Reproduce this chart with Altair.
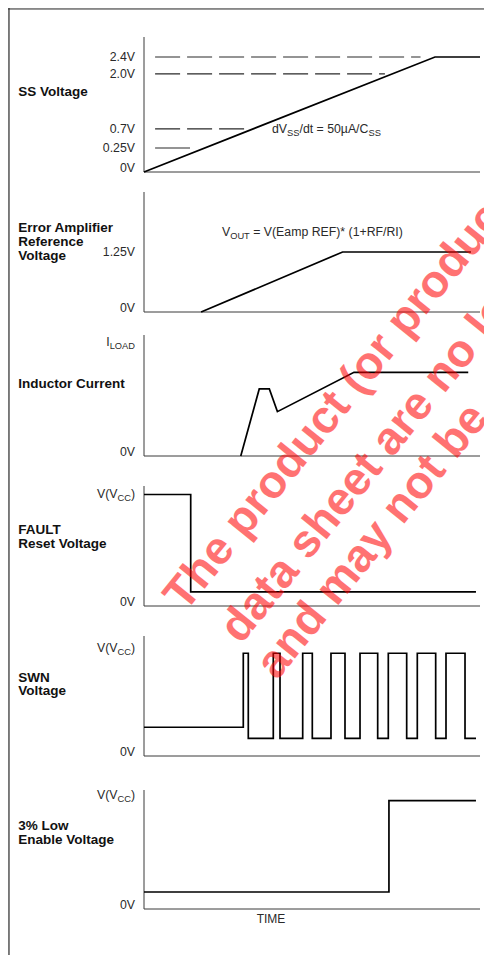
import altair as alt
import pandas as pd

FONT = "Liberation Sans, Arial, Helvetica, sans-serif"

# ---------------- data ----------------
# time axis in arbitrary units (TIME)
t_domain = [0, 100]

# SS Voltage (V)
ss_time = [0, 86.6, 100]
ss_volt = [0, 2.4, 2.4]
ss_ref_level = [2.4, 2.0, 0.7, 0.25]
ss_ref_start = [3.3, 3.3, 3.3, 3.3]
ss_ref_end = [82.3, 71.7, 30.1, 13.7]
ss_ref_dashed = [True, True, True, False]
ss_tick_value = [2.4, 2.0, 0.7, 0.25]
ss_tick_text = ["2.4V", "2.0V", "0.7V", "0.25V"]
ss_note_time, ss_note_volt = 38.1, 0.7

# Error Amplifier Reference Voltage (V)
ea_time = [17.0, 59.1, 97.3]
ea_volt = [0, 1.25, 1.25]
ea_tick_value = [1.25]
ea_tick_text = ["1.25V"]
ea_note_time, ea_note_volt = 23.2, 1.25

# Inductor current (fraction of I_LOAD)
il_time = [28.8, 34.3, 37.3, 39.7, 62.5, 96.5]
il_curr = [0, 0.588, 0.588, 0.389, 0.734, 0.734]

# FAULT reset voltage (fraction of VCC), step-after
fault_time = [0, 13.9, 98.8]
fault_level = [1, 0.126, 0.126]

# SWN voltage (fraction of VCC), step-after
swn_time = [0, 29.55, 31.04, 38.48, 40.48, 47.23, 50.09, 55.65, 59.82,
            64.29, 69.55, 72.71, 78.18, 81.34, 86.81, 89.88, 95.54, 98.81]
swn_level = [0.265, 0.947, 0.163, 0.947, 0.163, 0.947, 0.163, 0.947, 0.163,
             0.947, 0.163, 0.947, 0.163, 0.947, 0.163, 0.947, 0.163, 0.163]

# 3% Low enable voltage (fraction of VCC), step-after
low_time = [0, 72.9, 98.8]
low_level = [0.149, 0.95, 0.95]

time_label_t = 37.8

panel_titles = {
    "ss": "SS Voltage",
    "ea": "Error Amplifier\nReference\nVoltage",
    "il": "Inductor Current",
    "fault": "FAULT\nReset Voltage",
    "swn": "SWN\nVoltage",
    "low": "3% Low\nEnable Voltage",
}

watermark_lines = ["The product (or product", "data sheet are no lo", "and may not be"]

# ---------------- layout (scale configuration) ----------------
W, H = 476, 947
XS = alt.Scale(domain=t_domain, range=[136, 472], nice=False, zero=False)
PANEL = {
    "ss": dict(domain=[0, 0.25, 2.4, 2.872], range=[164, 140, 49, 29], title_y=87.5),
    "ea": dict(domain=[0, 2.5], range=[304, 184], title_y=224.3),
    "il": dict(domain=[0, 1.061], range=[448, 327], title_y=380.3),
    "fault": dict(domain=[0, 1.076], range=[598, 478], title_y=526),
    "swn": dict(domain=[0, 1.106], range=[748, 628], title_y=673.7),
    "low": dict(domain=[0, 1.044], range=[901, 782], title_y=822),
}

FS, SFS, SDY = 12.3, 9.3, 4
LABEL_DX = -9
TITLE_DX = -125.7
SIG_W = 1.7
AX_W = 1.0
AX_C = "#3a3a3a"
TXT_C = "#2a2a2a"

AR = {'V': 667, '(': 333, ')': 333, 'C': 722, 'I': 278, 'L': 556, 'O': 778, 'A': 667,
      'D': 722, 'S': 667, 'U': 722, 'T': 611, 'd': 556, '/': 278, 't': 278, ' ': 278,
      '=': 584, '5': 556, '0': 556, 'µ': 576, 'E': 667, 'a': 556, 'm': 833, 'p': 556,
      'R': 722, 'F': 611, '*': 389, '1': 556, '+': 584}


def tw(s, fs):
    return sum(AR.get(c, 556) for c in s) * fs / 1000.0


def X(field="t"):
    return alt.X(f"{field}:Q", scale=XS, axis=None)


def Y(p, field="v"):
    c = PANEL[p]
    return alt.Y(f"{field}:Q", scale=alt.Scale(domain=c["domain"], range=c["range"],
                                               nice=False, zero=False), axis=None)


def axes(p):
    top = PANEL[p]["domain"][-1]
    df = pd.DataFrame({"t": [t_domain[0]], "t2": [t_domain[1]], "v": [0], "v2": [top]})
    vert = alt.Chart(df).mark_rule(color=AX_C, strokeWidth=AX_W).encode(
        x=X(), y=Y(p), y2=alt.Y2("v2:Q"))
    horiz = alt.Chart(df).mark_rule(color=AX_C, strokeWidth=AX_W).encode(
        x=X(), x2=alt.X2("t2:Q"), y=Y(p))
    zero = alt.Chart(df).mark_text(text="0V", align="right", baseline="middle", dx=LABEL_DX,
                                   dy=-4, fontSize=FS, font=FONT, color=TXT_C).encode(x=X(), y=Y(p))
    title = alt.Chart(df).mark_text(text=panel_titles[p], align="left", baseline="alphabetic",
                                    lineBreak="\n", lineHeight=13.7, fontSize=13.5,
                                    fontWeight="bold", font=FONT, color="#111").encode(
        x=alt.value(136 + TITLE_DX), y=alt.value(PANEL[p]["title_y"]))
    return [vert, horiz, zero, title]


def rich(p, t, v, segs, align="left", dx=0, dy=0):
    total = sum(tw(s, SFS if sub else FS) for s, sub in segs)
    cur = dx - total if align == "right" else dx
    df = pd.DataFrame({"t": [t], "v": [v]})
    out = []
    for s, sub in segs:
        f = SFS if sub else FS
        lead = len(s) - len(s.lstrip(" "))
        cur += tw(" " * lead, f)
        body = s.lstrip(" ")
        out.append(alt.Chart(df).mark_text(text=body, align="left", baseline="middle", dx=cur,
                                           dy=dy + (SDY if sub else 0), fontSize=f, font=FONT,
                                           color=TXT_C).encode(x=X(), y=Y(p)))
        cur += tw(body, f)
    return out


def ticks(p, values, texts):
    df = pd.DataFrame({"t": [t_domain[0]] * len(values), "v": values, "txt": texts})
    return alt.Chart(df).mark_text(align="right", baseline="middle", dx=LABEL_DX, fontSize=FS,
                                   font=FONT, color=TXT_C).encode(x=X(), y=Y(p), text="txt:N")


def signal(p, times, vals, interp="linear"):
    df = pd.DataFrame({"t": times, "v": vals})
    return alt.Chart(df).mark_line(color="black", strokeWidth=SIG_W, interpolate=interp,
                                   strokeJoin="miter").encode(x=X(), y=Y(p))


vcc_segs = [("V(V", False), ("CC", True), (")", False)]

# ---- SS panel
ref_df = pd.DataFrame({"t": ss_ref_start, "t2": ss_ref_end, "v": ss_ref_level, "dash": ss_ref_dashed})
ss_dash = alt.Chart(ref_df[ref_df.dash]).mark_rule(color="#2a2a2a", strokeWidth=1.2,
                                                    strokeDash=[25, 7]).encode(
    x=X(), x2=alt.X2("t2:Q"), y=Y("ss"))
ss_solid = alt.Chart(ref_df[~ref_df.dash]).mark_rule(color="#2a2a2a", strokeWidth=1.2).encode(
    x=X(), x2=alt.X2("t2:Q"), y=Y("ss"))
p_ss = alt.layer(*axes("ss"), ss_dash, ss_solid, signal("ss", ss_time, ss_volt),
                 ticks("ss", ss_tick_value, ss_tick_text),
                 *rich("ss", ss_note_time, ss_note_volt,
                       [("dV", False), ("SS", True), ("/dt = 50µA/C", False), ("SS", True)]))

# ---- EA panel
p_ea = alt.layer(*axes("ea"), signal("ea", ea_time, ea_volt),
                 ticks("ea", ea_tick_value, ea_tick_text),
                 *rich("ea", ea_note_time, ea_note_volt,
                       [("V", False), ("OUT", True), (" = V(Eamp REF)* (1+RF/RI)", False)], dy=-20))

# ---- Inductor current
p_il = alt.layer(*axes("il"), signal("il", il_time, il_curr),
                 *rich("il", 0, 1, [("I", False), ("LOAD", True)], align="right", dx=LABEL_DX))

# ---- FAULT
p_fault = alt.layer(*axes("fault"), signal("fault", fault_time, fault_level, "step-after"),
                    *rich("fault", 0, 1, vcc_segs, align="right", dx=LABEL_DX))

# ---- SWN
p_swn = alt.layer(*axes("swn"), signal("swn", swn_time, swn_level, "step-after"),
                  *rich("swn", 0, 1, vcc_segs, align="right", dx=LABEL_DX))

# ---- 3% Low
time_df = pd.DataFrame({"t": [time_label_t], "v": [0]})
time_lbl = alt.Chart(time_df).mark_text(text="TIME", align="center", baseline="middle", dy=9.5,
                                        fontSize=12, font=FONT, color=TXT_C).encode(x=X(), y=Y("low"))
p_low = alt.layer(*axes("low"), signal("low", low_time, low_level, "step-after"),
                  *rich("low", 0, 1, vcc_segs, align="right", dx=LABEL_DX), time_lbl)

# ---- frame + watermark overlay
one = pd.DataFrame({"k": [0]})
frame_l = alt.Chart(one).mark_rule(color="#333", strokeWidth=1.2).encode(
    x=alt.value(1), y=alt.value(0), y2=alt.value(H))
frame_t = alt.Chart(one).mark_rule(color="#333", strokeWidth=1.2).encode(
    x=alt.value(0), x2=alt.value(W), y=alt.value(1))
wm_pos = [(177, 605), (233, 637), (269, 673)]
wm = [alt.Chart(one).mark_text(text=s, align="left", baseline="alphabetic", angle=309,
                               fontSize=46, fontWeight="bold", font=FONT, color="#ff0000",
                               opacity=0.55).encode(x=alt.value(px), y=alt.value(py))
      for s, (px, py) in zip(watermark_lines, wm_pos)]

chart = alt.layer(frame_l, frame_t, p_ss, p_ea, p_il, p_fault, p_swn, p_low, *wm).resolve_scale(
    y="independent").properties(
    width=W, height=H, padding=0, autosize=alt.AutoSizeParams(type="none")
).configure_view(stroke=None).configure(background="white")

chart.save("out.html", embed_options={"renderer": "svg", "actions": False})
